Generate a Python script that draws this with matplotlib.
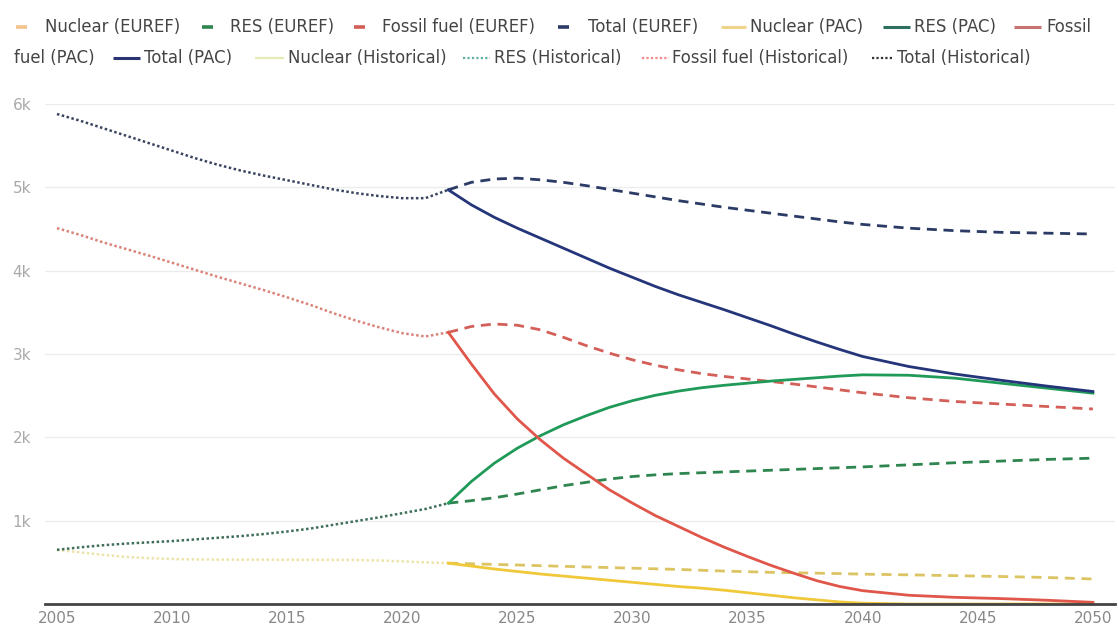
import matplotlib
matplotlib.use("Agg")
import matplotlib.pyplot as plt
from matplotlib.lines import Line2D

# ---------------- data ----------------
hist_years = [2005, 2006, 2007, 2008, 2009, 2010, 2011, 2012, 2013, 2014, 2015, 2016,
              2017, 2018, 2019, 2020, 2021, 2022]
hist_nuclear = [650, 620, 590, 565, 550, 540, 535, 533, 532, 532, 531, 530,
                530, 528, 522, 512, 500, 490]
hist_res = [650, 680, 705, 725, 740, 755, 775, 795, 815, 840, 870, 905,
            950, 995, 1040, 1090, 1140, 1210]
hist_fossil = [4510, 4430, 4340, 4260, 4180, 4095, 4010, 3925, 3845, 3765, 3680, 3590,
               3490, 3400, 3320, 3250, 3210, 3260]
hist_total = [5880, 5800, 5710, 5620, 5530, 5440, 5350, 5270, 5200, 5140, 5085, 5030,
              4975, 4930, 4895, 4870, 4870, 4970]

proj_years = [2022, 2023, 2024, 2025, 2026, 2027, 2028, 2029, 2030, 2031, 2032, 2033,
              2034, 2035, 2036, 2037, 2038, 2039, 2040, 2042, 2044, 2046, 2048, 2050]

euref_nuclear = [490, 483, 475, 468, 460, 452, 445, 437, 430, 422, 415, 405,
                 395, 388, 380, 375, 370, 365, 358, 350, 340, 330, 318, 300]
euref_res = [1210, 1240, 1275, 1320, 1370, 1420, 1460, 1500, 1530, 1550, 1565, 1575,
             1585, 1595, 1605, 1615, 1625, 1635, 1645, 1670, 1695, 1715, 1735, 1750]
euref_fossil = [3260, 3330, 3360, 3345, 3290, 3200, 3100, 3010, 2930, 2865, 2810, 2765,
                2730, 2700, 2670, 2640, 2605, 2570, 2535, 2475, 2430, 2400, 2370, 2340]
euref_total = [4970, 5060, 5100, 5110, 5090, 5060, 5020, 4975, 4930, 4885, 4840, 4800,
               4760, 4725, 4690, 4655, 4620, 4585, 4555, 4510, 4480, 4460, 4450, 4440]

pac_nuclear = [490, 455, 420, 390, 360, 335, 310, 285, 260, 235, 210, 190,
               165, 135, 105, 75, 50, 25, 10, 0, 0, 0, 0, 0]
pac_res = [1210, 1470, 1690, 1870, 2020, 2150, 2260, 2360, 2440, 2505, 2555, 2595,
           2625, 2650, 2675, 2695, 2715, 2735, 2750, 2745, 2710, 2650, 2590, 2530]
pac_fossil = [3260, 2880, 2520, 2220, 1970, 1750, 1560, 1370, 1210, 1060, 930, 800,
              680, 570, 465, 370, 280, 210, 160, 105, 80, 65, 45, 20]
pac_total = [4970, 4790, 4640, 4510, 4390, 4270, 4150, 4030, 3920, 3810, 3710, 3620,
             3530, 3435, 3340, 3240, 3145, 3055, 2970, 2850, 2760, 2685, 2615, 2550]

x_ticks = [2005, 2010, 2015, 2020, 2025, 2030, 2035, 2040, 2045, 2050]
y_ticks = [1000, 2000, 3000, 4000, 5000, 6000]
y_tick_labels = ["1k", "2k", "3k", "4k", "5k", "6k"]

legend_labels = ["Nuclear (EUREF)", "RES (EUREF)", "Fossil fuel (EUREF)", "Total (EUREF)",
                 "Nuclear (PAC)", "RES (PAC)", "Fossil fuel (PAC)", "Total (PAC)",
                 "Nuclear (Historical)", "RES (Historical)", "Fossil fuel (Historical)",
                 "Total (Historical)"]

# ---------------- styles ----------------
plt.rcParams['font.family'] = ['DejaVu Sans']

C = {
    'nuc_e': '#dcc463', 'res_e': '#2f8550', 'fos_e': '#d35f58', 'tot_e': '#2b3b66',
    'nuc_p': '#f0c93a', 'res_p': '#1f9a58', 'fos_p': '#e0564a', 'tot_p': '#24357a',
    'nuc_h': '#ece4a8', 'res_h': '#3f6e58', 'fos_h': '#d9837a', 'tot_h': '#394560',
}
DASH = (0, (3.6, 2.4))
DOT = (0, (1.0, 1.0))

fig = plt.figure(figsize=(11.18, 6.35), dpi=100)
ax = fig.add_axes([45 / 1118, 31 / 635, 1070 / 1118, 500 / 635])

# historical (dotted)
ax.plot(hist_years, hist_nuclear, color=C['nuc_h'], lw=1.8, ls=DOT, zorder=2)
ax.plot(hist_years, hist_res, color=C['res_h'], lw=1.8, ls=DOT, zorder=2)
ax.plot(hist_years, hist_fossil, color=C['fos_h'], lw=1.8, ls=DOT, zorder=2)
ax.plot(hist_years, hist_total, color=C['tot_h'], lw=1.8, ls=DOT, zorder=2)

# EUREF (dashed)
ax.plot(proj_years, euref_nuclear, color=C['nuc_e'], lw=2.0, ls=DASH, zorder=3)
ax.plot(proj_years, euref_res, color=C['res_e'], lw=2.0, ls=DASH, zorder=3)
ax.plot(proj_years, euref_fossil, color=C['fos_e'], lw=2.0, ls=DASH, zorder=3)
ax.plot(proj_years, euref_total, color=C['tot_e'], lw=2.0, ls=DASH, zorder=3)

# PAC (solid)
ax.plot(proj_years, pac_nuclear, color=C['nuc_p'], lw=2.0, zorder=4, solid_joinstyle='round')
ax.plot(proj_years, pac_res, color=C['res_p'], lw=2.0, zorder=4, solid_joinstyle='round')
ax.plot(proj_years, pac_fossil, color=C['fos_p'], lw=2.0, zorder=4, solid_joinstyle='round')
ax.plot(proj_years, pac_total, color=C['tot_p'], lw=2.0, zorder=4, solid_joinstyle='round')

ax.set_xlim(2004.48, 2050.96)
ax.set_ylim(0, 6000)

for s in ['top', 'right', 'left']:
    ax.spines[s].set_visible(False)
ax.spines['bottom'].set_color('#444444')
ax.spines['bottom'].set_linewidth(2.0)
ax.spines['bottom'].set_zorder(6)

ax.set_yticks(y_ticks)
ax.set_yticklabels(y_tick_labels)
ax.set_xticks(x_ticks)
ax.set_xticklabels([str(v) for v in x_ticks])
ax.tick_params(axis='y', length=0, pad=10, labelsize=11, labelcolor='#aaaaaa')
ax.tick_params(axis='x', length=0, pad=5, labelsize=11, labelcolor='#888888')
ax.grid(axis='y', color='#ececec', lw=1.0, zorder=0)
ax.set_axisbelow(True)

# ---------------- legend (drawn manually to mimic the wrapped layout) ----------------
W, H = 1118.0, 635.0
def fx(px):
    return px / W
def fy(py):
    return 1 - py / H

row1, row2 = 27, 58
fs = 11.9
tc = '#444444'

def sample(x0, x1, y, color, ls='-', lw=2.2):
    fig.add_artist(Line2D([fx(x0), fx(x1)], [fy(y), fy(y)], color=color, ls=ls, lw=lw,
                          transform=fig.transFigure, solid_capstyle='butt'))

def label(x, y, s):
    fig.text(fx(x), fy(y), s, fontsize=fs, color=tc, ha='left', va='center')

# row 1
sample(16, 27, row1, '#f3c48c', lw=2.6); label(45, row1, legend_labels[0])
sample(202, 213, row1, C['res_e'], lw=2.6); label(230, row1, legend_labels[1])
sample(354, 365, row1, C['fos_e'], lw=2.6); label(382, row1, legend_labels[2])
sample(558, 569, row1, C['tot_e'], lw=2.6); label(588, row1, legend_labels[3])
sample(721, 746, row1, '#f0d48a'); label(750, row1, legend_labels[4])
sample(883, 910, row1, '#2f6f5f'); label(914, row1, legend_labels[5])
sample(1014, 1041, row1, '#c9736e'); label(1046, row1, "Fossil")
# row 2
label(14, row2, "fuel (PAC)")
sample(113, 140, row2, '#2c3573'); label(144, row2, legend_labels[7])
sample(255, 284, row2, '#e6eab5', lw=1.6); label(288, row2, legend_labels[8])
sample(463, 490, row2, '#5fb0a0', ls=DOT, lw=1.6); label(494, row2, legend_labels[9])
sample(642, 669, row2, '#f08a8a', ls=DOT, lw=1.6); label(672, row2, legend_labels[10])
sample(872, 894, row2, '#333333', ls=DOT, lw=1.6); label(897, row2, legend_labels[11])

fig.savefig("out.png", dpi=100, facecolor='white')
